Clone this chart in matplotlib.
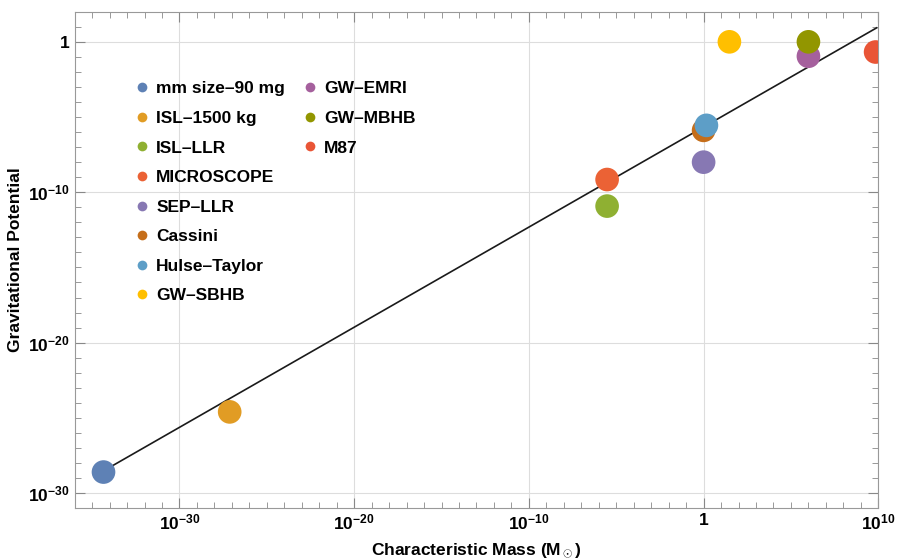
import matplotlib.pyplot as plt
import matplotlib.ticker as mticker
from matplotlib.lines import Line2D
import numpy as np

plt.rcParams['font.family'] = ['Liberation Sans', 'DejaVu Sans']
plt.rcParams['font.weight'] = 'bold'
plt.rcParams['mathtext.fontset'] = 'custom'
plt.rcParams['mathtext.rm'] = 'Liberation Sans:bold'
plt.rcParams['mathtext.bf'] = 'Liberation Sans:bold'
plt.rcParams['mathtext.it'] = 'Liberation Sans:bold'

# experiments / observations
labels = ['mm size\u201390 mg', 'ISL\u20131500 kg', 'ISL\u2013LLR', 'MICROSCOPE',
          'SEP\u2013LLR', 'Cassini', 'Hulse\u2013Taylor', 'GW\u2013SBHB',
          'GW\u2013EMRI', 'GW\u2013MBHB', 'M87']
mass = [4.5e-35, 7.5e-28, 3.0e-6, 3.0e-6, 1.0, 1.0, 1.45, 30.0, 1.0e6, 1.0e6, 7.0e9]
potential = [2.5e-29, 2.5e-25, 1.2e-11, 7.0e-10, 1.0e-8, 1.3e-6, 2.8e-6, 1.0, 0.11, 1.0, 0.21]
colors = ['#5E81B5', '#E19C24', '#8FB032', '#EB6235', '#8778B3', '#C56E1A',
          '#5D9EC7', '#FFBF00', '#A5609D', '#929600', '#E95536']

# reference line (endpoints)
line_mass = [4.5e-35, 8.0e9]
line_pot = [3.0e-29, 8.5e0]

fig, ax = plt.subplots(figsize=(8.99, 5.59), dpi=100)
fig.subplots_adjust(left=0.083, right=0.977, bottom=0.091, top=0.979)

ax.plot(line_mass, line_pot, color='#1a1a1a', lw=1.2, zorder=2)
for m, p, c in zip(mass, potential, colors):
    ax.scatter(m, p, s=290, color=c, edgecolors='none', zorder=3)

ax.set_xscale('log')
ax.set_yscale('log')
ax.set_xlim(1e-36, 1e10)
ax.set_ylim(1e-31, 1e2)

def fmt(v, pos):
    e = int(round(np.log10(v)))
    if e == 0:
        return '1'
    return r'$\mathbf{10^{%d}}$' % e

ax.xaxis.set_major_locator(mticker.FixedLocator([1e-30, 1e-20, 1e-10, 1, 1e10]))
ax.yaxis.set_major_locator(mticker.FixedLocator([1e-30, 1e-20, 1e-10, 1]))
ax.xaxis.set_major_formatter(mticker.FuncFormatter(fmt))
ax.yaxis.set_major_formatter(mticker.FuncFormatter(fmt))
ax.xaxis.set_minor_locator(mticker.FixedLocator([10.0 ** k for k in range(-36, 11)]))
ax.yaxis.set_minor_locator(mticker.FixedLocator([10.0 ** k for k in range(-31, 3)]))
ax.xaxis.set_minor_formatter(mticker.NullFormatter())
ax.yaxis.set_minor_formatter(mticker.NullFormatter())

ax.tick_params(which='both', direction='in', top=True, right=True, color='#888888')
ax.tick_params(which='major', length=7, width=0.8, labelsize=12.5)
ax.tick_params(which='minor', length=4, width=0.6)
for s in ax.spines.values():
    s.set_color('#999999')
    s.set_linewidth(0.8)

ax.grid(True, which='major', color='#dddddd', lw=0.8, zorder=0)
ax.set_axisbelow(True)

ax.set_xlabel(r'Characteristic Mass (M$_\odot$)', fontsize=12.5, fontweight='bold', labelpad=6)
ax.set_ylabel('Gravitational Potential', fontsize=12.5, fontweight='bold', labelpad=4)

handles = [Line2D([], [], ls='none', marker='o', ms=7, color=c, mec='none') for c in colors]
leg_kw = dict(loc='upper left', frameon=False, prop={'size': 12.5, 'weight': 'bold'},
              labelspacing=0.83, handletextpad=0.3, handlelength=1.0, borderaxespad=0)
leg1 = ax.legend(handles[:8], labels[:8], bbox_to_anchor=(0.065, 0.874), **leg_kw)
ax.add_artist(leg1)
ax.legend(handles[8:], labels[8:], bbox_to_anchor=(0.274, 0.874), **leg_kw)

plt.savefig('out.png', dpi=100)
